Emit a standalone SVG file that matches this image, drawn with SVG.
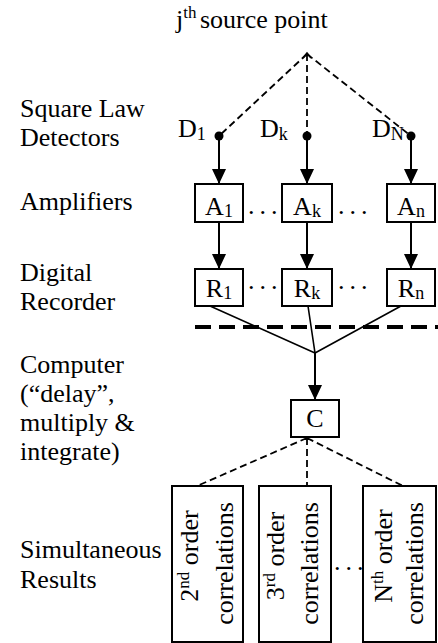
<svg xmlns="http://www.w3.org/2000/svg" width="438" height="643" viewBox="0 0 438 643">
<style>
text{font-family:Liberation Serif,Times New Roman,Times,DejaVu Serif,Noto Serif,serif;font-size:26px;fill:#000}
.sub{font-size:18px}
.sup{font-size:17px}
.box{fill:#fff;stroke:#000;stroke-width:2}
.solid{stroke:#000;stroke-width:2;fill:none}
.thin{stroke:#000;stroke-width:1.6;fill:none}
.dash{stroke:#000;stroke-width:1.8;fill:none;stroke-dasharray:7 4}
.thick{stroke:#000;stroke-width:4;fill:none;stroke-dasharray:16 8}
.dots{letter-spacing:5px}
</style>
<defs>
<marker id="ah" viewBox="0 0 15 14" refX="15" refY="7" markerWidth="15" markerHeight="14" markerUnits="userSpaceOnUse" orient="auto">
<path d="M0,0 L15,7 L0,14 z" fill="#000"/>
</marker>
</defs>
<g id="labels">
<text x="176" y="28">j<tspan class="sup" dy="-10">th</tspan><tspan x="200" dy="10">source point</tspan></text>
<text x="20" y="117">Square Law</text>
<text x="20" y="146">Detectors</text>
<text x="20" y="210">Amplifiers</text>
<text x="20" y="281">Digital</text>
<text x="20" y="310">Recorder</text>
<text x="20" y="373">Computer</text>
<text x="20" y="402">(“delay”,</text>
<text x="20" y="431">multiply &amp;</text>
<text x="20" y="460">integrate)</text>
<text x="20" y="558">Simultaneous</text>
<text x="20" y="588">Results</text>
</g>
<g id="connectors">
<path class="dash" d="M307,54 L219,136 M307,54 L307,136 M307,54 L411,136"/>
<path class="thin" d="M303,58 L307,53 L311,58"/>
<path class="solid" d="M219,136 L219,184" marker-end="url(#ah)"/>
<path class="solid" d="M307,136 L307,184" marker-end="url(#ah)"/>
<path class="solid" d="M411,136 L411,184" marker-end="url(#ah)"/>
<path class="solid" d="M219,222 L219,269" marker-end="url(#ah)"/>
<path class="solid" d="M307,222 L307,269" marker-end="url(#ah)"/>
<path class="solid" d="M411,222 L411,269" marker-end="url(#ah)"/>
<path class="thin" d="M210,306 L315,353 M308,306 L315,353 M401,306 L315,353"/>
<path class="solid" d="M315,353 L315,400" marker-end="url(#ah)"/>
<path class="thick" d="M195,327 L438,327"/>
<path class="dash" d="M307,438 L197,486 M307,438 L307,486 M307,438 L403,486"/>
</g>
<g id="D1"><circle cx="219" cy="136" r="4.5"/><text x="178" y="137">D<tspan class="sub" dy="3">1</tspan></text></g>
<g id="Dk"><circle cx="307" cy="136" r="4.5"/><text x="260" y="137">D<tspan class="sub" dy="3">k</tspan></text></g>
<g id="DN"><circle cx="411" cy="136" r="4.5"/><text x="372" y="137">D<tspan class="sub" dy="3">N</tspan></text></g>
<g id="A1"><rect class="box" x="195" y="184" width="48" height="38"/><text x="219" y="215" text-anchor="middle">A<tspan class="sub" dy="2">1</tspan></text></g>
<g id="Ak"><rect class="box" x="282" y="184" width="50" height="38"/><text x="307" y="215" text-anchor="middle">A<tspan class="sub" dy="2">k</tspan></text></g>
<g id="An"><rect class="box" x="387" y="184" width="48" height="38"/><text x="411" y="215" text-anchor="middle">A<tspan class="sub" dy="2">n</tspan></text></g>
<g id="R1"><rect class="box" x="195" y="269" width="48" height="37"/><text x="219" y="297" text-anchor="middle">R<tspan class="sub" dy="2">1</tspan></text></g>
<g id="Rk"><rect class="box" x="282" y="269" width="50" height="37"/><text x="307" y="297" text-anchor="middle">R<tspan class="sub" dy="2">k</tspan></text></g>
<g id="Rn"><rect class="box" x="387" y="269" width="48" height="37"/><text x="411" y="297" text-anchor="middle">R<tspan class="sub" dy="2">n</tspan></text></g>
<g id="ellipses">
<text class="dots" x="248" y="214">...</text>
<text class="dots" x="338" y="214">...</text>
<text class="dots" x="248" y="289">...</text>
<text class="dots" x="338" y="289">...</text>
<text class="dots" x="334" y="570">...</text>
</g>
<g id="C"><rect class="box" x="291" y="400" width="48" height="37"/><text x="315" y="427" text-anchor="middle">C</text></g>
<g id="res2"><rect class="box" x="172" y="486" width="71" height="156"/>
<text transform="translate(198,556) rotate(-90)" text-anchor="middle">2<tspan class="sup" dy="-9">nd</tspan><tspan dy="9"> order</tspan></text>
<text transform="translate(233,563.5) rotate(-90)" text-anchor="middle">correlations</text></g>
<g id="res3"><rect class="box" x="259" y="486" width="72" height="156"/>
<text transform="translate(284,556) rotate(-90)" text-anchor="middle">3<tspan class="sup" dy="-9">rd</tspan><tspan dy="9"> order</tspan></text>
<text transform="translate(318,563.5) rotate(-90)" text-anchor="middle">correlations</text></g>
<g id="resN"><rect class="box" x="363" y="486" width="73" height="156"/>
<text transform="translate(392,556) rotate(-90)" text-anchor="middle">N<tspan class="sup" dy="-9">th</tspan><tspan dy="9"> order</tspan></text>
<text transform="translate(423,563.5) rotate(-90)" text-anchor="middle">correlations</text></g>
</svg>
